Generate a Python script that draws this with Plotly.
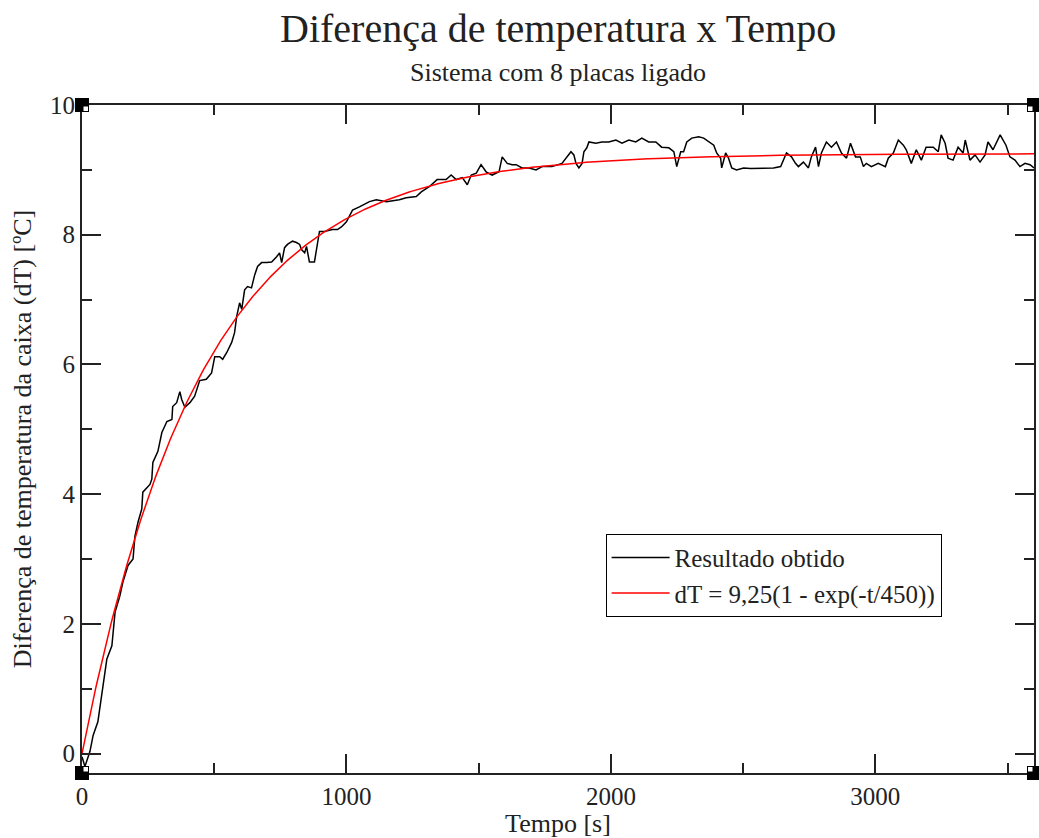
import numpy as np
import plotly.graph_objects as go

# Measured temperature difference of the box (time in s, dT in ºC)
tempo = [0, 11, 30, 42, 60, 75, 94, 113, 125, 143, 155, 174, 193, 200, 212, 226, 230,
         257, 264, 268, 287, 302, 321, 340, 343, 358, 370, 377, 389, 408, 426, 445,
         470, 490, 502, 521, 532, 547, 566, 577, 585, 596, 604, 615, 626, 641, 653,
         664, 679, 698, 717, 736, 747, 755, 766, 777, 796, 811, 823, 830, 842, 849,
         860, 879, 887, 898, 917, 947, 966, 981, 1000, 1023, 1049, 1075, 1087, 1113,
         1151, 1200, 1226, 1264, 1283, 1313, 1343, 1377, 1396, 1415, 1438, 1457, 1472,
         1491, 1509, 1528, 1551, 1577, 1589, 1608, 1626, 1642, 1664, 1691, 1717, 1740,
         1777, 1815, 1834, 1849, 1860, 1868, 1879, 1891, 1898, 1909, 1917, 1943, 1966,
         1992, 2019, 2042, 2068, 2094, 2117, 2143, 2170, 2192, 2219, 2238, 2249, 2264,
         2275, 2287, 2306, 2332, 2351, 2370, 2389, 2400, 2415, 2419, 2434, 2445, 2457,
         2475, 2502, 2528, 2551, 2585, 2615, 2642, 2653, 2664, 2683, 2698, 2709, 2728,
         2747, 2758, 2774, 2785, 2796, 2815, 2834, 2853, 2872, 2891, 2906, 2925, 2943,
         2955, 2966, 2985, 3011, 3038, 3049, 3068, 3087, 3106, 3117, 3136, 3155, 3174,
         3192, 3219, 3238, 3249, 3264, 3275, 3294, 3313, 3332, 3340, 3358, 3377, 3396,
         3415, 3426, 3445, 3472, 3483, 3494, 3509, 3528, 3547, 3566, 3585, 3600]
dT_medido = [-0.05, -0.2, 0.03, 0.28, 0.49, 0.95, 1.46, 1.66, 2.18, 2.43, 2.65, 2.9, 3.0,
             3.35, 3.57, 3.77, 4.03, 4.15, 4.23, 4.49, 4.66, 4.95, 5.12, 5.15, 5.35, 5.41,
             5.58, 5.46, 5.34, 5.41, 5.51, 5.75, 5.77, 5.87, 6.12, 6.12, 6.08, 6.18, 6.34,
             6.49, 6.74, 6.95, 6.85, 7.15, 7.2, 7.18, 7.38, 7.51, 7.57, 7.57, 7.58, 7.66,
             7.72, 7.57, 7.8, 7.85, 7.9, 7.88, 7.85, 7.77, 7.72, 7.82, 7.58, 7.58, 7.77,
             8.05, 8.05, 8.08, 8.08, 8.12, 8.2, 8.38, 8.43, 8.49, 8.51, 8.54, 8.51, 8.54,
             8.57, 8.59, 8.66, 8.74, 8.85, 8.85, 8.92, 8.85, 8.88, 8.77, 8.92, 8.95, 9.08,
             8.97, 8.92, 8.97, 9.2, 9.1, 9.08, 9.08, 9.03, 9.03, 9.0, 9.05, 9.05, 9.1, 9.2,
             9.28, 9.23, 9.1, 9.03, 9.1, 9.28, 9.34, 9.43, 9.41, 9.43, 9.43, 9.46, 9.41,
             9.46, 9.43, 9.49, 9.43, 9.43, 9.35, 9.34, 9.28, 9.05, 9.28, 9.28, 9.43, 9.49,
             9.51, 9.49, 9.43, 9.38, 9.26, 9.18, 9.03, 9.26, 9.18, 9.03, 9.0, 9.03, 9.02,
             9.02, 9.03, 9.03, 9.05, 9.15, 9.26, 9.2, 9.1, 9.05, 9.12, 9.03, 9.2, 9.35,
             9.05, 9.26, 9.43, 9.35, 9.43, 9.26, 9.18, 9.41, 9.2, 9.2, 9.05, 9.1, 9.05,
             9.1, 9.05, 9.18, 9.26, 9.46, 9.38, 9.31, 9.1, 9.31, 9.15, 9.35, 9.35, 9.28,
             9.54, 9.41, 9.18, 9.15, 9.35, 9.26, 9.46, 9.15, 9.23, 9.12, 9.23, 9.43, 9.31,
             9.54, 9.46, 9.38, 9.2, 9.15, 9.05, 9.1, 9.08, 9.03]

# Fitted model dT = A(1 - exp(-t/tau))
A_ajuste = 9.25
tau_ajuste = 450
t_ajuste = np.linspace(0, 3600, 721)
dT_ajuste = A_ajuste * (1 - np.exp(-t_ajuste / tau_ajuste))

x_ticks = [0, 1000, 2000, 3000]
y_ticks = [0, 2, 4, 6, 8, 10]

FONT = "Liberation Serif"

fig = go.Figure()
fig.add_trace(go.Scatter(x=tempo, y=dT_medido, mode="lines",
                         line=dict(color="black", width=1.5),
                         name="Resultado obtido"))
fig.add_trace(go.Scatter(x=t_ajuste, y=dT_ajuste, mode="lines",
                         line=dict(color="red", width=1.5),
                         name="dT = 9,25(1 - exp(-t/450))"))

axis_common = dict(showgrid=False, zeroline=False, showline=True, linecolor="#222",
                   linewidth=2, mirror="ticks", ticks="inside", ticklen=19,
                   tickwidth=1.5, tickcolor="#222",
                   tickfont=dict(family=FONT, size=25, color="#222"))

fig.update_xaxes(range=[0, 3600], tickvals=x_ticks, ticktext=[str(v) for v in x_ticks],
                 minor=dict(dtick=500, ticks="inside", ticklen=10, tickcolor="#222",
                            tickwidth=1.5),
                 title=dict(text="Tempo [s]", font=dict(family=FONT, size=26, color="#222"),
                            standoff=3),
                 **axis_common)
fig.update_yaxes(range=[-0.3, 10], tickvals=y_ticks, ticktext=[str(v) for v in y_ticks],
                 minor=dict(dtick=1, tick0=0, ticks="inside", ticklen=10, tickcolor="#222",
                            tickwidth=1.5),
                 title=dict(text="Diferença de temperatura da caixa (dT) [ºC]",
                            font=dict(family=FONT, size=26, color="#222"), standoff=11),
                 **axis_common)

fig.update_layout(
    width=1039, height=838,
    margin=dict(l=82, r=3, t=105, b=65),
    paper_bgcolor="white", plot_bgcolor="white",
    showlegend=True,
    legend=dict(x=0.55, y=0.358, xanchor="left", yanchor="top",
                bgcolor="white", bordercolor="black", borderwidth=1,
                font=dict(family=FONT, size=25, color="#222"),
                tracegroupgap=0, itemwidth=58),
    annotations=[
        dict(text="Diferença de temperatura x Tempo", xref="paper", yref="paper",
             x=0.5, y=1, yshift=77, xanchor="center", yanchor="middle", showarrow=False,
             font=dict(family=FONT, size=40, color="#222")),
        dict(text="Sistema com 8 placas ligado", xref="paper", yref="paper",
             x=0.5, y=1, yshift=33, xanchor="center", yanchor="middle", showarrow=False,
             font=dict(family=FONT, size=26, color="#222")),
    ],
)

# Corner handles of the graph frame
for cx, cy in [(0, 0), (0, 1), (1, 0), (1, 1)]:
    fig.add_shape(type="rect", xref="paper", yref="paper",
                  xsizemode="pixel", ysizemode="pixel", xanchor=cx, yanchor=cy,
                  x0=-7, x1=7, y0=-7, y1=7, fillcolor="black", line=dict(width=0),
                  layer="above")
    sx = 1 if cx == 0 else -1
    sy = 1 if cy == 0 else -1
    fig.add_shape(type="rect", xref="paper", yref="paper",
                  xsizemode="pixel", ysizemode="pixel", xanchor=cx, yanchor=cy,
                  x0=sx * 1.5, x1=sx * 6, y0=sy * 1.5, y1=sy * 6,
                  fillcolor="white", line=dict(width=0), layer="above")

fig.write_html("out.html")
